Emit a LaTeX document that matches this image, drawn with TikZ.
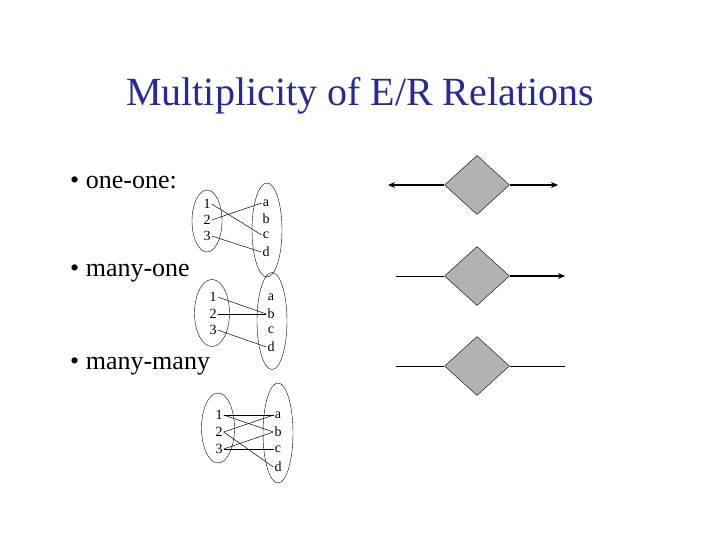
\documentclass[tikz,border=0pt]{standalone}
\usepackage{fontspec}
\setmainfont{Liberation Serif}
\usetikzlibrary{shapes.geometric,arrows.meta}
\definecolor{navy}{RGB}{40,40,150}
\tikzset{
  rel/.style={diamond,draw,fill=black!30,minimum width=65bp,minimum height=59bp,inner sep=0pt},
  bul/.style={anchor=west,font=\fontsize{26bp}{28bp}\selectfont,inner sep=0pt},
  el/.style={font=\fontsize{14bp}{14bp}\selectfont,inner sep=1pt},
  set/.style={ellipse,draw,line width=0.4pt,inner sep=0pt},
  edge/.style={line width=0.5pt},
  conn/.style={line width=1.2pt},
  tip/.style={-{Stealth[length=7bp,width=6bp]}}
}
\begin{document}
\begin{tikzpicture}[x=1bp,y=-1bp]
\useasboundingbox (0,0) rectangle (720,540);
\node[font=\fontsize{40bp}{44bp}\selectfont,text=navy] (title) at (360,96) {Multiplicity of E/R Relations};
\node[bul] (b1) at (70,183) {\textbullet\ one-one:};
\node[bul] (b2) at (70,273) {\textbullet\ many-one};
\node[bul] (b3) at (70,366) {\textbullet\ many-many};
% set 1
\node[set,minimum width=30bp,minimum height=62bp] (L1) at (207,221) {};
\node[set,minimum width=30bp,minimum height=94bp] (R1) at (267,230) {};
\node[el] (a1) at (207,204) {1};
\node[el] (a2) at (207,220) {2};
\node[el] (a3) at (207,236) {3};
\node[el] (ba) at (266,203) {a};
\node[el] (bb) at (266,219) {b};
\node[el] (bc) at (266,235) {c};
\node[el] (bd) at (266,252) {d};
\draw[edge] (a1.east) -- (bc.west);
\draw[edge] (a2.east) -- (ba.west);
\draw[edge] (a3.east) -- (bd.west);
% set 2
\node[set,minimum width=35bp,minimum height=67bp] (L2) at (212,313) {};
\node[set,minimum width=30bp,minimum height=97bp] (R2) at (272,321) {};
\node[el] (c1) at (213,297) {1};
\node[el] (c2) at (213,314) {2};
\node[el] (c3) at (213,330) {3};
\node[el] (da) at (271,297) {a};
\node[el] (db) at (271,314) {b};
\node[el] (dc) at (271,330) {c};
\node[el] (dd) at (271,347) {d};
\draw[edge] (c1.east) -- (db.west);
\draw[edge] (c2.east) -- (db.west);
\draw[edge] (c3.east) -- (dd.west);
% set 3
\node[set,minimum width=33bp,minimum height=70bp] (L3) at (218,428) {};
\node[set,minimum width=30bp,minimum height=100bp] (R3) at (278,433) {};
\node[el] (e1) at (219,415) {1};
\node[el] (e2) at (219,432) {2};
\node[el] (e3) at (219,449) {3};
\node[el] (fa) at (278,415) {a};
\node[el] (fb) at (278,432) {b};
\node[el] (fc) at (278,449) {c};
\node[el] (fd) at (278,467) {d};
\draw[edge] (e1.east) -- (fa.west);
\draw[edge] (e1.east) -- (fb.west);
\draw[edge] (e2.east) -- (fa.west);
\draw[edge] (e2.east) -- (fd.west);
\draw[edge] (e3.east) -- (fb.west);
\draw[edge] (e3.east) -- (fc.west);
% diamonds
\node[rel] (d1) at (477,185) {};
\node[rel] (d2) at (477,276) {};
\node[rel] (d3) at (477,366) {};
\coordinate (l1) at (388,185); \coordinate (r1) at (558,185);
\coordinate (l2) at (396,276); \coordinate (r2) at (565,276);
\coordinate (l3) at (396,366); \coordinate (r3) at (565,366);
\draw[conn,tip] (d1.west) -- (l1);
\draw[conn,tip] (d1.east) -- (r1);
\draw[edge] (l2) -- (d2.west);
\draw[conn,tip] (d2.east) -- (r2);
\draw[edge] (l3) -- (d3.west);
\draw[edge] (d3.east) -- (r3);
\end{tikzpicture}
\end{document}
